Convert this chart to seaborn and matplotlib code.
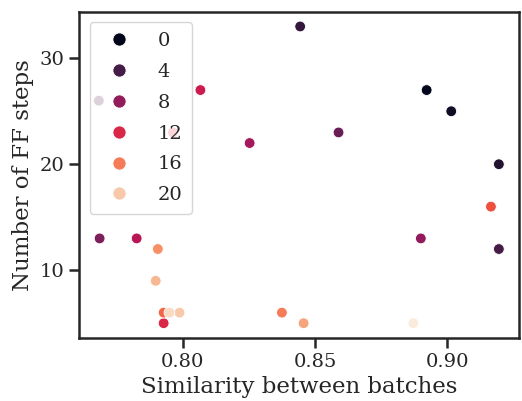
import matplotlib
matplotlib.use("Agg")
import matplotlib.pyplot as plt
import pandas as pd
import seaborn as sns

# values
similarity = [0.8922, 0.9015, 0.9195, 0.8444, 0.9195, 0.7683, 0.8589, 0.7686,
              0.8900, 0.8253, 0.7826, 0.8067, 0.7928, 0.7963, 0.9165, 0.7928,
              0.8375, 0.7906, 0.8457, 0.7898, 0.7988, 0.7950, 0.8872]
ff_steps = [27, 25, 20, 33, 12, 26, 23, 13,
            13, 22, 13, 27, 5, 23, 16, 6,
            6, 12, 5, 9, 6, 6, 5]
batch = list(range(23))

x_ticks = [0.80, 0.85, 0.90]
y_ticks = [10, 20, 30]

df = pd.DataFrame({
    "Similarity between batches": similarity,
    "Number of FF steps": ff_steps,
    "batch": batch,
})

sns.set_theme(style="ticks")
plt.rcParams["font.family"] = ["DejaVu Serif"]

fig, ax = plt.subplots(figsize=(5.22, 4.01), dpi=100)
sns.scatterplot(data=df, x="Similarity between batches", y="Number of FF steps",
                hue="batch", palette="rocket", s=60, ax=ax)

ax.set_xticks(x_ticks)
ax.set_yticks(y_ticks)
ax.tick_params(labelsize=14, length=7, width=1.8)
for sp in ax.spines.values():
    sp.set_linewidth(1.8)
ax.xaxis.label.set_size(16.5)
ax.yaxis.label.set_size(16.5)

sns.move_legend(ax, "upper left", title=None, fontsize=14, frameon=True,
                labelspacing=0.66, handletextpad=1.0, borderpad=0.5,
                borderaxespad=0.55)
for h in ax.get_legend().legend_handles:
    h.set_markersize(9.5)

fig.subplots_adjust(left=0.151, right=0.994, bottom=0.157, top=0.971)
fig.savefig("out.png", dpi=100)
